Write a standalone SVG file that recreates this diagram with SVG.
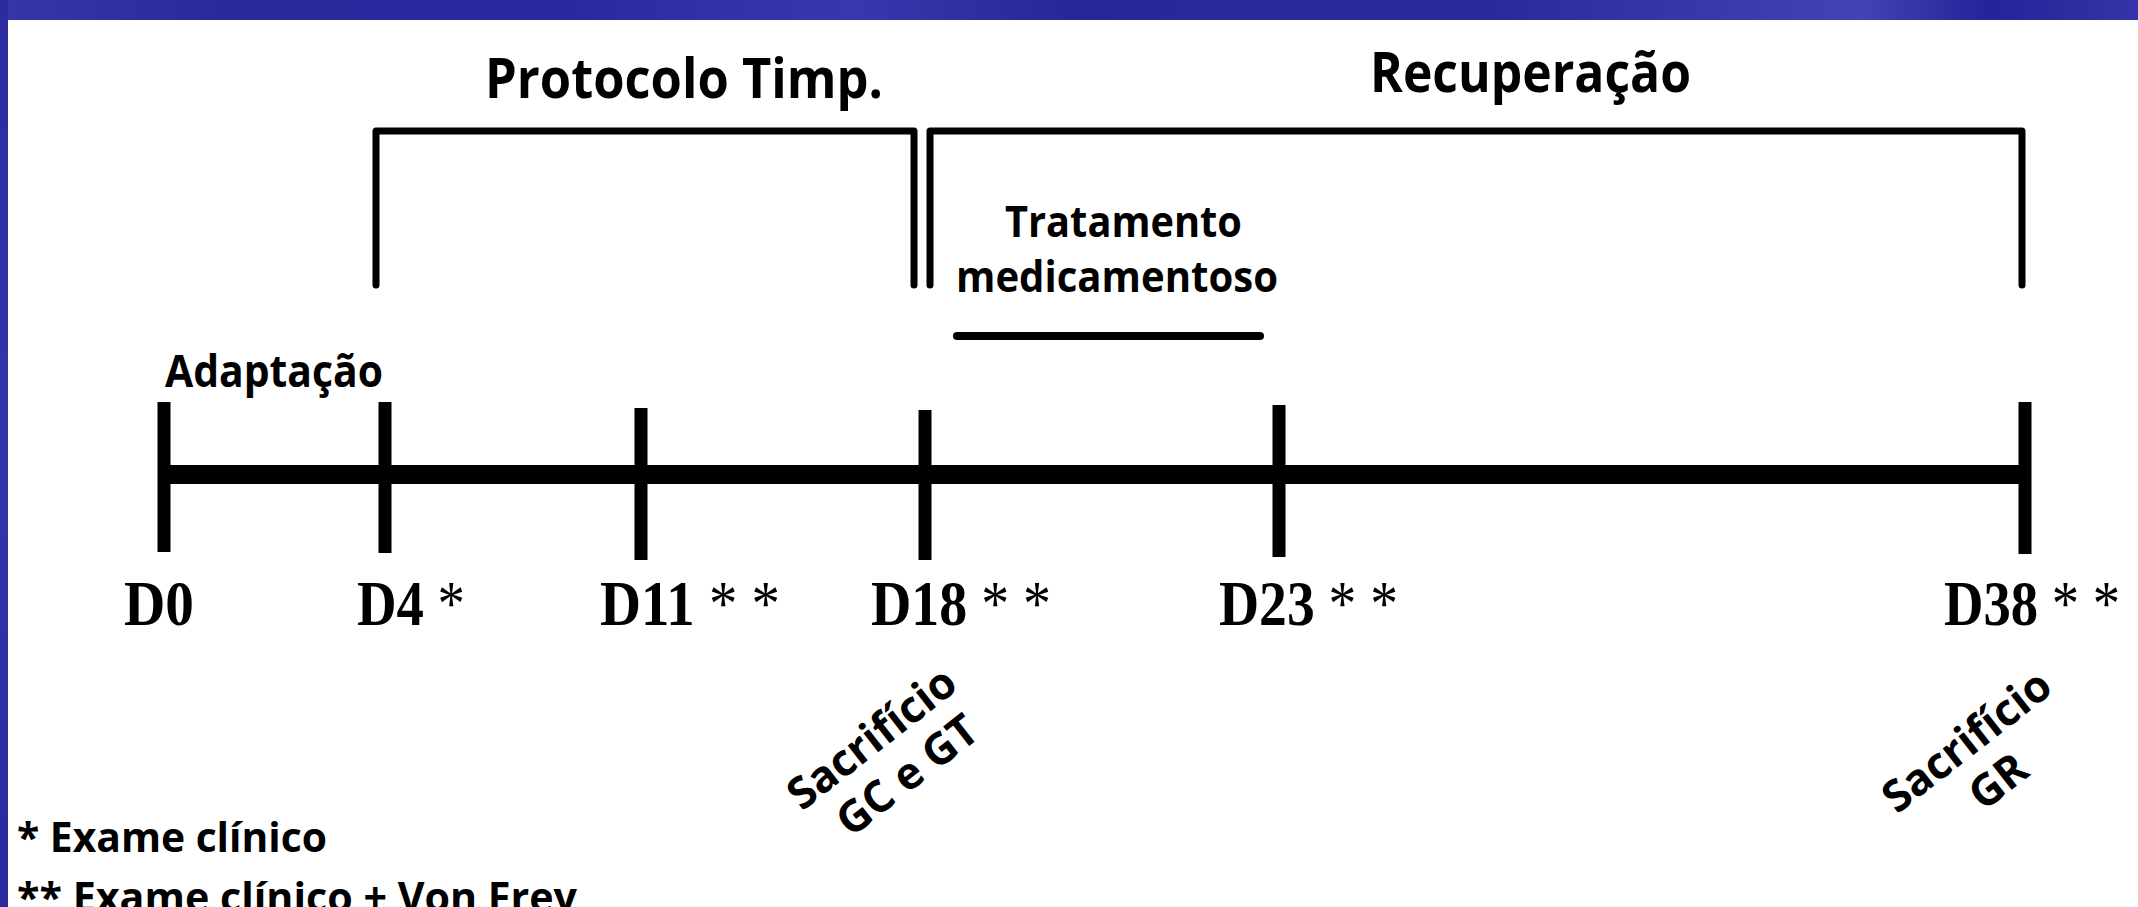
<svg xmlns="http://www.w3.org/2000/svg" width="2138" height="907" viewBox="0 0 2138 907">
<defs>
<linearGradient id="hdr" x1="0" y1="0" x2="1" y2="0">
<stop offset="0" stop-color="#3636a9"/>
<stop offset="0.1" stop-color="#2a2a9c"/>
<stop offset="0.25" stop-color="#2727a0"/>
<stop offset="0.4" stop-color="#3838ae"/>
<stop offset="0.5" stop-color="#27279a"/>
<stop offset="0.7" stop-color="#2a2a9e"/>
<stop offset="0.87" stop-color="#4343b6"/>
<stop offset="0.93" stop-color="#24249a"/>
<stop offset="1" stop-color="#3434a8"/>
</linearGradient>
<linearGradient id="side" x1="0" y1="0" x2="0" y2="1">
<stop offset="0" stop-color="#2c2ca0"/>
<stop offset="0.5" stop-color="#3535aa"/>
<stop offset="1" stop-color="#2a2a9e"/>
</linearGradient>
</defs>
<style>
.lbl{font-family:"Open Sans","Noto Sans","Liberation Sans",sans-serif;font-weight:bold;fill:#000}
.day{font-family:"Liberation Serif","Times New Roman",serif;font-weight:bold;font-size:64px;fill:#000}
.ast{font-weight:normal}
.brk{fill:none;stroke:#000;stroke-width:7;stroke-linejoin:round;stroke-linecap:round}
.tick{stroke:#000;stroke-width:13}
</style>
<rect x="0" y="0" width="2138" height="907" fill="#ffffff"/>
<rect x="0" y="0" width="2138" height="20" fill="url(#hdr)"/>
<rect x="0" y="0" width="8" height="907" fill="url(#side)"/>

<g id="connectors">
<path class="brk" d="M376 285 V131 H914 V285"/>
<path class="brk" d="M930 285 V131 H2022 V285"/>
<line x1="164" y1="474.5" x2="2025" y2="474.5" stroke="#000" stroke-width="19"/>
<line x1="957" y1="336" x2="1260" y2="336" stroke="#000" stroke-width="8" stroke-linecap="round"/>
</g>

<g id="title-protocolo">
<text class="lbl" x="485" y="98" font-size="56" textLength="398" lengthAdjust="spacingAndGlyphs">Protocolo Timp.</text>
</g>
<g id="title-recuperacao">
<text class="lbl" x="1370" y="92" font-size="56" textLength="321" lengthAdjust="spacingAndGlyphs">Recuperação</text>
</g>
<g id="tratamento">
<text class="lbl" x="1005" y="237" font-size="43" textLength="237" lengthAdjust="spacingAndGlyphs">Tratamento</text>
<text class="lbl" x="956" y="292" font-size="43" textLength="322" lengthAdjust="spacingAndGlyphs">medicamentoso</text>
</g>
<g id="adaptacao">
<text class="lbl" x="165" y="387" font-size="45" textLength="218" lengthAdjust="spacingAndGlyphs">Adaptação</text>
</g>

<g id="d0">
<line class="tick" x1="164" y1="402" x2="164" y2="552"/>
<text class="day" x="124" y="625" textLength="70" lengthAdjust="spacingAndGlyphs">D0</text>
</g>
<g id="d4">
<line class="tick" x1="385" y1="402" x2="385" y2="553"/>
<text class="day" x="357" y="625" textLength="108" lengthAdjust="spacingAndGlyphs">D4 <tspan class="ast">*</tspan></text>
</g>
<g id="d11">
<line class="tick" x1="641" y1="408" x2="641" y2="560"/>
<text class="day" x="600" y="625" textLength="180" lengthAdjust="spacingAndGlyphs">D11 <tspan class="ast">* *</tspan></text>
</g>
<g id="d18">
<line class="tick" x1="925" y1="410" x2="925" y2="560"/>
<text class="day" x="871" y="625" textLength="180" lengthAdjust="spacingAndGlyphs">D18 <tspan class="ast">* *</tspan></text>
</g>
<g id="d23">
<line class="tick" x1="1279" y1="405" x2="1279" y2="557"/>
<text class="day" x="1219" y="625" textLength="179" lengthAdjust="spacingAndGlyphs">D23 <tspan class="ast">* *</tspan></text>
</g>
<g id="d38">
<line class="tick" x1="2025" y1="402" x2="2025" y2="554"/>
<text class="day" x="1944" y="625" textLength="176" lengthAdjust="spacingAndGlyphs">D38 <tspan class="ast">* *</tspan></text>
</g>

<g id="sacrificio-gc-gt" transform="translate(881,750) rotate(-38)">
<text class="lbl" x="0" y="0" font-size="44" text-anchor="middle">Sacrifício</text>
<text class="lbl" x="5" y="51" font-size="44" text-anchor="middle">GC e GT</text>
</g>
<g id="sacrificio-gr" transform="translate(1976,753) rotate(-38)">
<text class="lbl" x="0" y="0" font-size="44" text-anchor="middle">Sacrifício</text>
<text class="lbl" x="0" y="51" font-size="44" text-anchor="middle">GR</text>
</g>

<g id="legend">
<text class="lbl" x="17" y="852" font-size="42" textLength="310" lengthAdjust="spacingAndGlyphs">* Exame clínico</text>
<text class="lbl" x="17" y="912" font-size="42" textLength="560" lengthAdjust="spacingAndGlyphs">** Exame clínico + Von Frey</text>
</g>
</svg>
